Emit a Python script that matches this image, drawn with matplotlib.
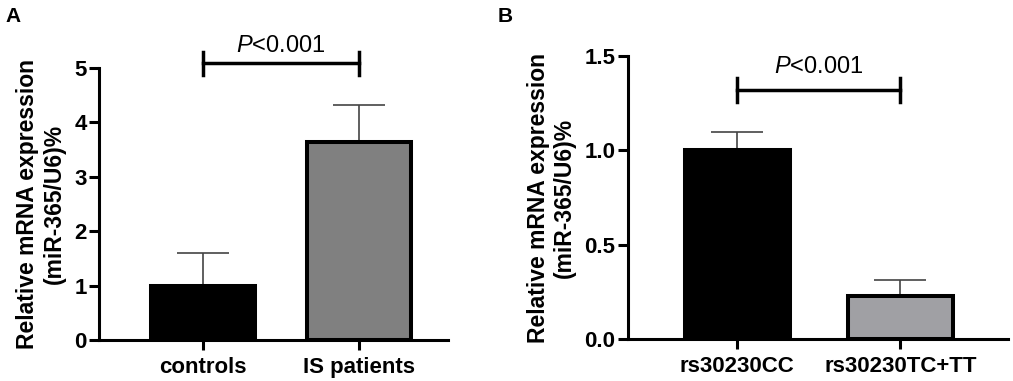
import numpy as np
import matplotlib.pyplot as plt

plt.rcParams['font.family'] = ['Liberation Sans', 'DejaVu Sans']
plt.rcParams['mathtext.fontset'] = 'custom'
plt.rcParams['mathtext.it'] = 'Liberation Sans:italic'
plt.rcParams['mathtext.rm'] = 'Liberation Sans'

# panel A
groups_a = ["controls", "IS patients"]
mean_a = [1.0, 3.63]
err_a = [0.6, 0.68]
colors_a = ["#000000", "#808080"]
yticks_a = [0, 1, 2, 3, 4, 5]

# panel B
groups_b = ["rs30230CC", "rs30230TC+TT"]
mean_b = [1.0, 0.23]
err_b = [0.1, 0.085]
colors_b = ["#000000", "#a0a0a4"]
yticks_b = [0.0, 0.5, 1.0, 1.5]

ylabel = "Relative mRNA expression\n(miR-365/U6)%"

W, H = 1013, 381
fig = plt.figure(figsize=(W / 100, H / 100), dpi=100)


def px_axes(x0, x1, ytop, ybot):
    return fig.add_axes([x0 / W, 1 - ybot / H, (x1 - x0) / W, (ybot - ytop) / H])


def draw_panel(ax, groups, mean, err, colors, yticks, ymax, sig_y, cap_h, text_y, width, xlim, fmt):
    x = np.arange(len(groups))
    ax.bar(x, mean, width=width, color=colors, edgecolor="black", linewidth=2.9, zorder=2)
    ax.errorbar(x, mean, yerr=[np.zeros(len(err)), err], fmt="none", ecolor="#444444",
                elinewidth=1.2, capsize=19, capthick=1.2, zorder=1)
    ax.set_xlim(*xlim)
    ax.set_ylim(0, ymax)
    ax.set_xticks(x)
    ax.set_xticklabels(groups, fontsize=16, fontweight="bold")
    ax.set_yticks(yticks)
    ax.set_yticklabels([fmt.format(v) for v in yticks], fontsize=16, fontweight="bold")
    for s in ["top", "right"]:
        ax.spines[s].set_visible(False)
    for s in ["left", "bottom"]:
        ax.spines[s].set_linewidth(2.2)
    ax.tick_params(axis="both", width=2.2, length=7)
    ax.tick_params(axis="y", pad=2)
    ax.tick_params(axis="x", pad=5)
    ax.set_ylabel(ylabel, fontsize=16.5, fontweight="bold", linespacing=1.2, labelpad=6)
    # significance bracket
    ax.plot([x[0], x[1]], [sig_y, sig_y], color="black", lw=2.5, clip_on=False)
    for xi in x:
        ax.plot([xi, xi], [sig_y - cap_h, sig_y + cap_h], color="black", lw=2.5, clip_on=False)
    ax.text(np.mean(x), text_y, r"$\it{P}$<0.001", ha="center", va="baseline",
            fontsize=17, clip_on=False)


axA = px_axes(99, 448, 67.7, 340)
draw_panel(axA, groups_a, mean_a, err_a, colors_a, yticks_a, 5, 5.08, 0.21, 5.29, 0.667,
           (-0.667, 1.57), "{:d}")

axB = px_axes(628, 1008, 56, 339.3)
draw_panel(axB, groups_b, mean_b, err_b, colors_b, yticks_b, 1.5, 1.32, 0.062, 1.408, 0.645,
           (-0.669, 1.66), "{:.1f}")

fig.text(5 / W, 1 - 22 / H, "A", fontsize=15, fontweight="bold", va="baseline", ha="left")
fig.text(498 / W, 1 - 21.5 / H, "B", fontsize=15, fontweight="bold", va="baseline", ha="left")

fig.savefig("out.png", dpi=100)
